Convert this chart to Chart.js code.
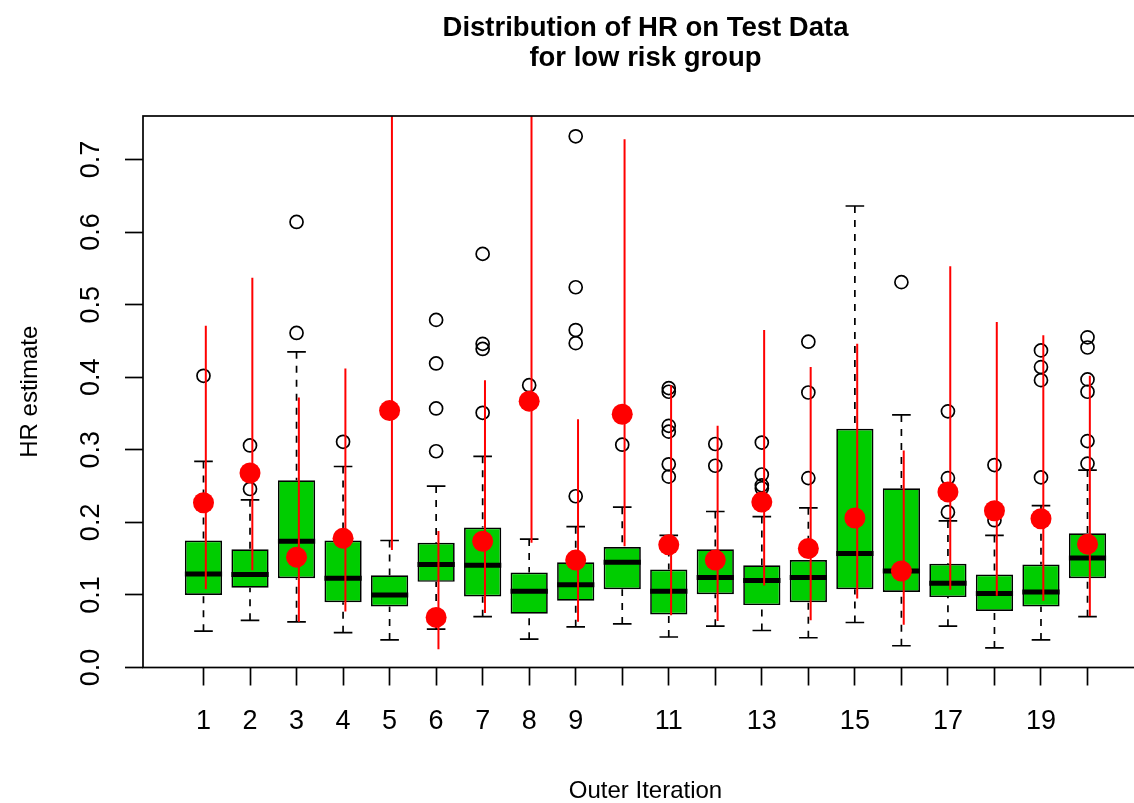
<!DOCTYPE html>
<html>
<head>
<meta charset="utf-8">
<script src="https://cdn.jsdelivr.net/npm/chart.js@4.4.1/dist/chart.umd.min.js"></script>
<style>
html,body{margin:0;padding:0;overflow:hidden;background:#fff}
#wrap{width:1148px;height:803px}
</style>
</head>
<body>
<div id="wrap"><canvas id="c" width="1148" height="803"></canvas></div>
<script>
// ---- data ----
const iterations = [1,2,3,4,5,6,7,8,9,10,11,12,13,14,15,16,17,18,19,20];
const xTickLabels = ['1','2','3','4','5','6','7','8','9','','11','','13','','15','','17','','19',''];
const yTickValues = [0,0.1,0.2,0.3,0.4,0.5,0.6,0.7];
const yTickLabels = ['0.0','0.1','0.2','0.3','0.4','0.5','0.6','0.7'];

const boxQ1     = [0.100,0.110,0.123,0.090,0.084,0.118,0.098,0.074,0.092,0.108,0.073,0.101,0.086,0.090,0.108,0.104,0.097,0.078,0.084,0.123];
const boxMedian = [0.129,0.128,0.174,0.123,0.100,0.142,0.141,0.105,0.114,0.145,0.105,0.124,0.120,0.124,0.157,0.133,0.116,0.102,0.104,0.151];
const boxQ3     = [0.175,0.163,0.258,0.175,0.127,0.172,0.193,0.131,0.145,0.166,0.135,0.163,0.141,0.148,0.329,0.247,0.143,0.128,0.142,0.185];
const whiskerLow  = [0.050,0.065,0.063,0.048,0.038,0.053,0.070,0.039,0.056,0.060,0.042,0.057,0.051,0.041,0.062,0.030,0.057,0.027,0.038,0.070];
const whiskerHigh = [0.284,0.231,0.435,0.277,0.175,0.250,0.291,0.177,0.194,0.221,0.182,0.215,0.208,0.220,0.636,0.348,0.202,0.182,0.223,0.272];
const outliers = [
  [0.402],
  [0.306,0.246],
  [0.614,0.461],
  [0.311],
  [],
  [0.479,0.419,0.357,0.298],
  [0.570,0.446,0.439,0.351],
  [0.389],
  [0.732,0.524,0.465,0.447,0.236],
  [0.307],
  [0.385,0.380,0.333,0.325,0.280,0.263],
  [0.308,0.278],
  [0.310,0.266,0.251,0.247],
  [0.449,0.379,0.261],
  [],
  [0.531],
  [0.353,0.261,0.214],
  [0.279,0.203],
  [0.437,0.414,0.396,0.262],
  [0.455,0.441,0.397,0.380,0.312,0.281]
];
const hrEstimate = [0.227,0.268,0.152,0.178,0.354,0.069,0.174,0.367,0.148,0.349,0.169,0.148,0.228,0.164,0.206,0.133,0.242,0.216,0.205,0.170];
const ciLower    = [0.108,0.134,0.063,0.077,0.162,0.025,0.075,0.172,0.063,0.167,0.072,0.064,0.113,0.065,0.095,0.059,0.107,0.099,0.092,0.071];
const ciUpper    = [0.471,0.537,0.372,0.412,0.850,0.188,0.396,0.850,0.342,0.728,0.389,0.333,0.465,0.414,0.446,0.299,0.553,0.476,0.458,0.402];

// ---- styling ----
const FONT = '"Liberation Sans", Arial, Helvetica, sans-serif';
Chart.defaults.font.family = FONT;
Chart.defaults.color = '#000';

const BOX_HALF = 0.4, STAPLE_HALF = 0.2, CI_SHIFT = 0.05;

const boxParts = {
  id: 'boxParts',
  beforeDatasetsDraw(chart) {
    const {ctx, chartArea: a, scales: {x, y}} = chart;
    ctx.save();
    ctx.beginPath(); ctx.rect(a.left, a.top, a.right - a.left, a.bottom - a.top); ctx.clip();
    ctx.strokeStyle = '#000';
    ctx.lineWidth = 1.7;
    iterations.forEach((it, i) => {
      const px = x.getPixelForValue(it);
      ctx.setLineDash([7, 7]);
      ctx.beginPath();
      ctx.moveTo(px, y.getPixelForValue(whiskerHigh[i])); ctx.lineTo(px, y.getPixelForValue(boxQ3[i]));
      ctx.moveTo(px, y.getPixelForValue(whiskerLow[i]));  ctx.lineTo(px, y.getPixelForValue(boxQ1[i]));
      ctx.stroke();
      ctx.setLineDash([]);
      const l = x.getPixelForValue(it - STAPLE_HALF), r = x.getPixelForValue(it + STAPLE_HALF);
      ctx.beginPath();
      ctx.moveTo(l, y.getPixelForValue(whiskerHigh[i])); ctx.lineTo(r, y.getPixelForValue(whiskerHigh[i]));
      ctx.moveTo(l, y.getPixelForValue(whiskerLow[i]));  ctx.lineTo(r, y.getPixelForValue(whiskerLow[i]));
      ctx.stroke();
    });
    ctx.restore();
  },
  afterDatasetDraw(chart, args) {
    const {ctx, chartArea: a, scales: {x, y}} = chart;
    ctx.save();
    ctx.beginPath(); ctx.rect(a.left, a.top, a.right - a.left, a.bottom - a.top); ctx.clip();
    if (args.index === 0) {
      ctx.strokeStyle = '#000'; ctx.lineWidth = 5; ctx.lineCap = 'butt';
      iterations.forEach((it, i) => {
        const py = y.getPixelForValue(boxMedian[i]);
        ctx.beginPath();
        ctx.moveTo(x.getPixelForValue(it - BOX_HALF), py);
        ctx.lineTo(x.getPixelForValue(it + BOX_HALF), py);
        ctx.stroke();
      });
    } else if (args.index === 1) {
      ctx.strokeStyle = '#ff0000'; ctx.lineWidth = 2;
      iterations.forEach((it, i) => {
        const px = x.getPixelForValue(it + CI_SHIFT);
        ctx.beginPath();
        ctx.moveTo(px, y.getPixelForValue(ciLower[i]));
        ctx.lineTo(px, y.getPixelForValue(ciUpper[i]));
        ctx.stroke();
      });
    }
    ctx.restore();
  },
  afterDraw(chart) {
    const {ctx, chartArea: a, scales: {y}} = chart;
    ctx.save();
    ctx.strokeStyle = '#000'; ctx.lineWidth = 1.7;
    ctx.strokeRect(a.left, a.top, a.right - a.left, a.bottom - a.top);
    // rotated y tick labels (R style, las=0)
    ctx.fillStyle = '#000';
    ctx.font = '27px ' + FONT;
    ctx.textAlign = 'center';
    ctx.textBaseline = 'alphabetic';
    y.ticks.forEach((t, i) => {
      const py = y.getPixelForValue(t.value);
      ctx.save();
      ctx.translate(99, py);
      ctx.rotate(-Math.PI / 2);
      ctx.fillText(yTickLabels[i], 0, 0);
      ctx.restore();
    });
    ctx.restore();
  }
};

new Chart(document.getElementById('c'), {
  type: 'bar',
  data: {
    datasets: [
      {
        type: 'bar',
        order: 3,
        data: iterations.map((it, i) => ({x: it, y: [boxQ1[i], boxQ3[i]]})),
        backgroundColor: '#00cd00',
        borderColor: '#000',
        borderWidth: 1.7,
        borderSkipped: false,
        barPercentage: 0.8,
        categoryPercentage: 1.0,
        grouped: false
      },
      {
        type: 'scatter',
        order: 2,
        data: outliers.flatMap((arr, i) => arr.map(v => ({x: iterations[i], y: v}))),
        pointStyle: 'circle',
        pointRadius: 6.5,
        pointBackgroundColor: 'rgba(0,0,0,0)',
        pointBorderColor: '#000',
        pointBorderWidth: 1.7,
        showLine: false
      },
      {
        type: 'scatter',
        order: 1,
        data: iterations.map((it, i) => ({x: it, y: hrEstimate[i]})),
        pointStyle: 'circle',
        pointRadius: 10.5,
        pointBackgroundColor: '#ff0000',
        pointBorderColor: '#ff0000',
        pointBorderWidth: 0,
        showLine: false
      }
    ]
  },
  options: {
    responsive: false,
    animation: false,
    events: [],
    layout: {autoPadding: false, padding: {left: 0, right: 0, top: 0, bottom: 0}},
    plugins: {
      legend: {display: false},
      tooltip: {enabled: false},
      title: {
        display: true,
        fullSize: false,
        text: ['Distribution of HR on Test Data', 'for low risk group'],
        color: '#000',
        font: {size: 27.5, weight: 'bold', family: FONT, lineHeight: 30 / 27.5},
        padding: {top: 13, bottom: 43}
      }
    },
    scales: {
      x: {
        type: 'linear',
        min: -0.3,
        max: 21.3,
        offset: false,
        afterBuildTicks: (s) => { s.ticks = iterations.map(v => ({value: v})); },
        afterFit: (s) => { s.height = 803 - 667.5; },
        ticks: {
          autoSkip: false,
          maxRotation: 0,
          minRotation: 0,
          padding: 20,
          color: '#000',
          font: {size: 27, family: FONT},
          callback: (v, i) => xTickLabels[i]
        },
        grid: {display: true, offset: false, drawOnChartArea: false, drawTicks: true, tickLength: 18, tickWidth: 1.7, tickColor: '#000'},
        border: {display: false},
        title: {display: true, text: 'Outer Iteration', color: '#000', font: {size: 24, family: FONT, lineHeight: 1}, padding: {top: 0, bottom: 0}}
      },
      y: {
        type: 'linear',
        min: 0,
        max: 0.76,
        afterBuildTicks: (s) => { s.ticks = yTickValues.map(v => ({value: v})); },
        afterFit: (s) => { s.width = 143; },
        ticks: {display: false},
        grid: {display: true, drawOnChartArea: false, drawTicks: true, tickLength: 18, tickWidth: 1.7, tickColor: '#000'},
        border: {display: false},
        title: {display: true, text: 'HR estimate', color: '#000', font: {size: 24, family: FONT, lineHeight: 1}, padding: {top: 18, bottom: 0}}
      }
    }
  },
  plugins: [boxParts]
});
</script>
</body>
</html>
